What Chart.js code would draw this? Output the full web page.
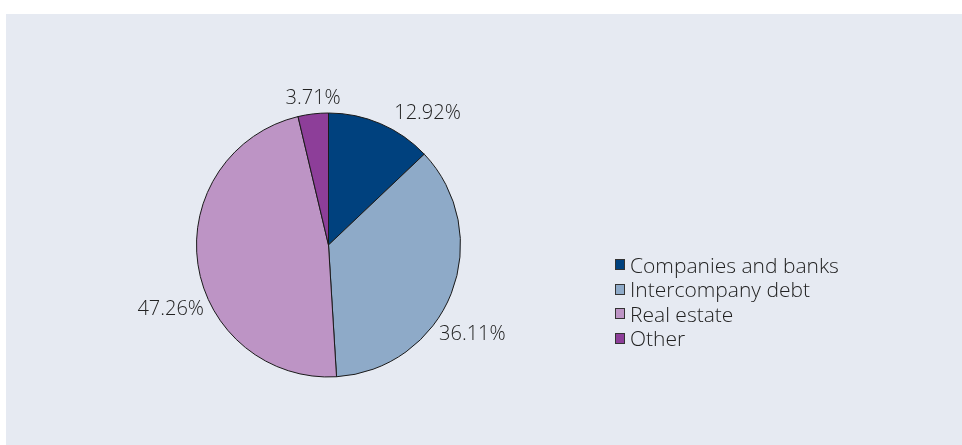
<!DOCTYPE html>
<html>
<head>
<meta charset="utf-8">
<script src="https://cdn.jsdelivr.net/npm/chart.js@4/dist/chart.umd.min.js"></script>
<style>
    html, body {
        margin: 0;
        padding: 0;
        background: #ffffff;
    }
    #panel {
        position: absolute;
        left: 6px;
        top: 14px;
        width: 956px;
        height: 431px;
        background: #e6eaf2;
    }
    #panel canvas {
        position: absolute;
        left: 0;
        top: 0;
    }
    #legend {
        position: absolute;
        left: 609px;
        top: 238.5px;
        margin: 0;
        padding: 0;
        list-style: none;
        font-family: "Open Sans", sans-serif;
        font-weight: 300;
        font-size: 21px;
        color: #222222;
    }
    #legend li {
        display: flex;
        align-items: center;
        height: 24.5px;
    }
    #legend .swatch {
        width: 8px;
        height: 9px;
        border: 1px solid #333333;
        margin-right: 5px;
    }
</style>
</head>
<body>
<div id="panel">
    <canvas id="sharesChart" width="956" height="431"></canvas>
    <ul id="legend"></ul>
</div>
<script>
    const categories = ["Companies and banks", "Intercompany debt", "Real estate", "Other"];
    const shares = [12.92, 36.11, 47.26, 3.71];
    const sliceColors = ["#00417e", "#8eaac8", "#bd94c5", "#8d3e99"];

    // Excel-style "best fit" label placement: shift from slice middle (deg) and gap outside the rim (px)
    const outsideLabels = {
        id: "outsideLabels",
        afterDatasetsDraw(chart, args, opts) {
            const ctx = chart.ctx;
            const meta = chart.getDatasetMeta(0);
            ctx.save();
            ctx.font = "300 20px 'Open Sans', sans-serif";
            ctx.fillStyle = "#222222";
            ctx.textAlign = "center";
            ctx.textBaseline = "middle";
            meta.data.forEach((arc, i) => {
                const p = arc.getProps(["x", "y", "startAngle", "endAngle", "outerRadius"], true);
                const mid = (p.startAngle + p.endAngle) / 2 + opts.angleShift[i] * Math.PI / 180;
                const r = p.outerRadius + opts.gap[i];
                ctx.fillText(shares[i].toFixed(2) + "%", p.x + Math.cos(mid) * r, p.y + Math.sin(mid) * r);
            });
            ctx.restore();
        }
    };

    const chart = new Chart(document.getElementById("sharesChart"), {
        type: "pie",
        data: {
            labels: categories,
            datasets: [{
                data: shares,
                backgroundColor: sliceColors,
                borderColor: "#1a1a1a",
                borderWidth: 1,
            }]
        },
        options: {
            responsive: false,
            animation: false,
            layout: {
                padding: { left: 190, right: 501, top: 98, bottom: 67 }
            },
            plugins: {
                legend: { display: false },
                tooltip: { enabled: false },
                outsideLabels: {
                    angleShift: [13.75, 10.4, -13.8, 0.7],
                    gap: [32.5, 37.5, 38.5, 15.5],
                }
            }
        },
        plugins: [outsideLabels]
    });

    // html legend so the labels stay plain text
    const legendEl = document.getElementById("legend");
    categories.forEach((name, i) => {
        const li = document.createElement("li");
        const sw = document.createElement("span");
        sw.className = "swatch";
        sw.style.background = sliceColors[i];
        li.appendChild(sw);
        li.appendChild(document.createTextNode(name));
        legendEl.appendChild(li);
    });
</script>
</body>
</html>
